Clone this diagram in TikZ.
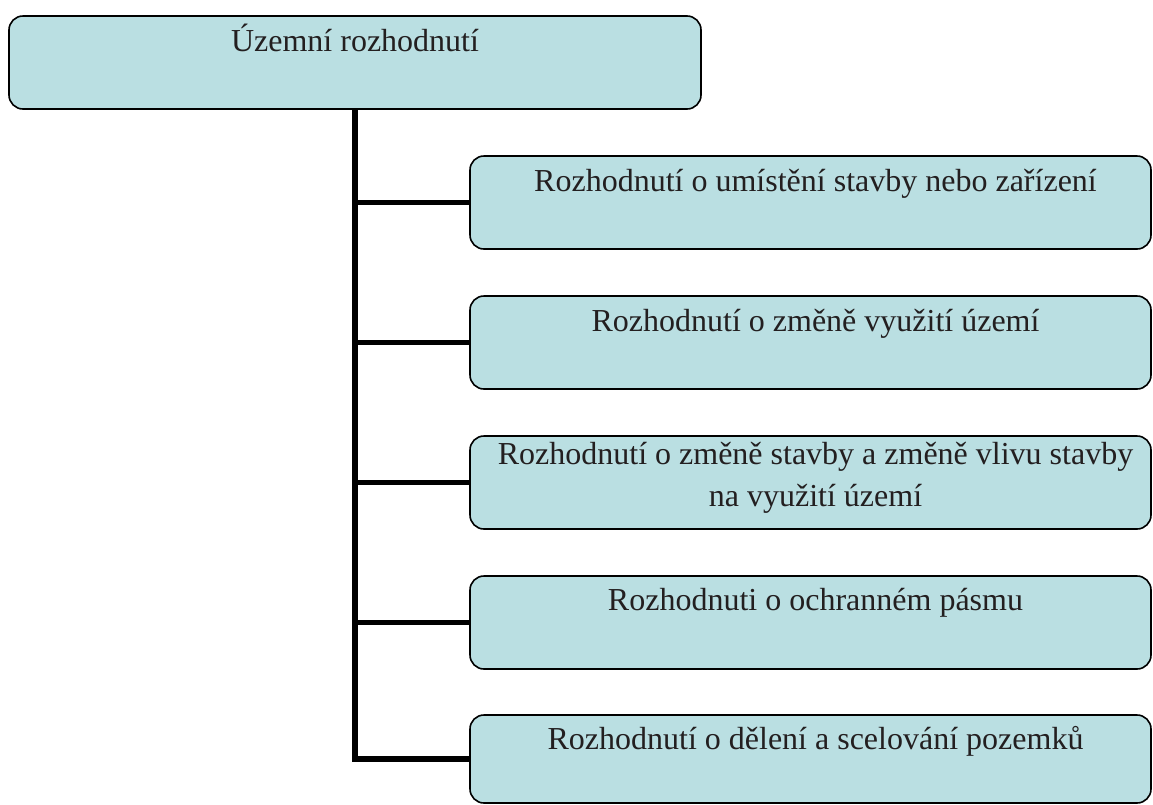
\documentclass[tikz,border=0pt]{standalone}
\usepackage{fontspec}
\setmainfont{Liberation Serif}
\definecolor{boxfill}{RGB}{186,223,226}
\definecolor{txt}{RGB}{35,31,32}
\usepackage{tikz}

\begin{document}
\begin{tikzpicture}[x=1pt, y=-1pt,
  box/.style={draw=black, line width=1.6pt, fill=boxfill, rounded corners=14pt, inner sep=0pt},
  lbl/.style={anchor=base, inner sep=0pt, align=center, text=txt, font=\fontsize{32}{42}\selectfont},
  tree/.style={line width=5.5pt, black}]
\useasboundingbox (0,0) rectangle (1153,804);

\node[box, minimum width=692, minimum height=93] (uz) at (355,62.5) {};
\node[lbl] (uzt) at ([yshift=-36pt]uz.north) {Územní rozhodnutí};

\node[box, minimum width=681, minimum height=93] (r1) at (810.5,202.5) {};
\node[box, minimum width=681, minimum height=93] (r2) at (810.5,342.5) {};
\node[box, minimum width=681, minimum height=93] (r3) at (810.5,482.5) {};
\node[box, minimum width=681, minimum height=93] (r4) at (810.5,622.5) {};
\node[box, minimum width=681, minimum height=88] (r5) at (810.5,759) {};

\node[lbl] (r1t) at ([xshift=5pt,yshift=-36pt]r1.north) {Rozhodnutí o umístění stavby nebo zařízení};
\node[lbl] (r2t) at ([xshift=5pt,yshift=-36pt]r2.north) {Rozhodnutí o změně využití území};
\node[lbl] (r3t) at ([xshift=5pt,yshift=-71pt]r3.north) {Rozhodnutí o změně stavby a změně vlivu stavby\\na využití území};
\node[lbl] (r4t) at ([xshift=5pt,yshift=-35pt]r4.north) {Rozhodnuti o ochranném pásmu};
\node[lbl] (r5t) at ([xshift=5pt,yshift=-35pt]r5.north) {Rozhodnutí o dělení a scelování pozemků};

% trunk and branches
\draw[tree] (uz.south) |- (r5.west);
\foreach \r in {r1,r2,r3,r4}
  \draw[tree] (uz.south |- \r.west) -- (\r.west);
\end{tikzpicture}
\end{document}
